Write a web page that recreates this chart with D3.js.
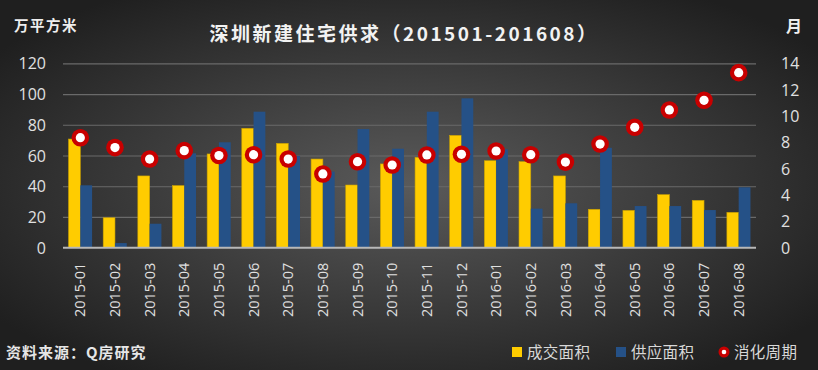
<!DOCTYPE html>
<html lang="zh">
<head>
<meta charset="UTF-8">
<title>深圳新建住宅供求</title>
<style>
  html, body { margin: 0; padding: 0; background: #2b2b2b; }
  svg { display: block; }
  text { font-family: "Noto Sans CJK SC", "Open Sans", sans-serif; }
  .num { font-family: "Open Sans", "Noto Sans", sans-serif; }
</style>
</head>
<body>
<script src="https://d3js.org/d3.v7.min.js"></script>
<script>
const months = ["2015-01","2015-02","2015-03","2015-04","2015-05","2015-06","2015-07","2015-08","2015-09","2015-10",
                "2015-11","2015-12","2016-01","2016-02","2016-03","2016-04","2016-05","2016-06","2016-07","2016-08"];
// 成交面积 (万平方米)
const deal = [70.7, 19.5, 46.7, 40.4, 61, 77.7, 67.9, 57.7, 40.8, 54.5,
              58.8, 73.1, 56.6, 56, 46.7, 25, 24.3, 34.5, 30.8, 23];
// 供应面积 (万平方米)
const supply = [40.6, 3, 15.6, 61.4, 68.6, 88.5, 59.7, 49.5, 77.2, 64.4,
                88.5, 97.2, 64, 25.4, 28.9, 65, 27.1, 27.1, 24.5, 39.3];
// 消化周期 (月)
const cycle = [8.35, 7.6, 6.73, 7.37, 7.0, 7.06, 6.73, 5.6, 6.53, 6.28,
               7.04, 7.09, 7.34, 7.06, 6.5, 7.87, 9.14, 10.46, 11.19, 13.29];
const leftTicks = [0, 20, 40, 60, 80, 100, 120];
const rightTicks = [0, 2, 4, 6, 8, 10, 12, 14];

const W = 818, H = 370;
const plot = {left: 63, right: 756, top: 63.3, bottom: 247.7};

const svg = d3.select("body").append("svg").attr("width", W).attr("height", H);

const defs = svg.append("defs");
const grad = defs.append("radialGradient").attr("id", "bg")
  .attr("cx", "50%").attr("cy", "50%").attr("r", "62%");
grad.append("stop").attr("offset", "0%").attr("stop-color", "#5a5a5a");
grad.append("stop").attr("offset", "100%").attr("stop-color", "#1f1f1f");
svg.append("rect").attr("width", W).attr("height", H).attr("fill", "url(#bg)");

const x = d3.scaleBand().domain(months).range([plot.left, plot.right]).paddingInner(0.32).paddingOuter(0.16);
const xs = d3.scaleBand().domain(["deal", "supply"]).range([0, x.bandwidth()]);
const yL = d3.scaleLinear().domain([0, 120]).range([plot.bottom, plot.top]);
const yR = d3.scaleLinear().domain([0, 14]).range([plot.bottom, plot.top]);

// gridlines
const grid = d3.axisLeft(yL).tickValues(leftTicks.slice(1)).tickSize(-(plot.right - plot.left)).tickFormat("");
svg.append("g").attr("transform", `translate(${plot.left},0)`).call(grid)
  .call(g => g.select(".domain").remove())
  .call(g => g.selectAll("line").attr("stroke", "#6a6a6a").attr("stroke-width", 1.2));

// left axis labels
svg.append("g").attr("transform", `translate(${plot.left},0)`)
  .call(d3.axisLeft(yL).tickValues(leftTicks).tickSize(0).tickPadding(17))
  .call(g => g.select(".domain").remove())
  .call(g => g.selectAll("text").attr("class", "num").attr("fill", "#e0e0e0").attr("font-size", 16).attr("dy", "0.35em"));

// right axis labels
svg.append("g").attr("transform", `translate(${plot.right},0)`)
  .call(d3.axisRight(yR).tickValues(rightTicks).tickSize(0).tickPadding(25))
  .call(g => g.select(".domain").remove())
  .call(g => g.selectAll("text").attr("class", "num").attr("fill", "#e0e0e0").attr("font-size", 16).attr("dy", "0.35em"));

// bars
const groups = svg.append("g").selectAll("g").data(months).join("g")
  .attr("transform", d => `translate(${x(d)},0)`);
groups.append("rect")
  .attr("x", xs("deal")).attr("width", xs.bandwidth())
  .attr("y", (d, i) => yL(deal[i])).attr("height", (d, i) => plot.bottom - yL(deal[i]))
  .attr("fill", "#ffcc00").attr("stroke", "#c9a000").attr("stroke-width", 0.6);
groups.append("rect")
  .attr("x", xs("supply")).attr("width", xs.bandwidth())
  .attr("y", (d, i) => yL(supply[i])).attr("height", (d, i) => plot.bottom - yL(supply[i]))
  .attr("fill", "#255187");

// baseline
svg.append("line").attr("x1", plot.left).attr("x2", plot.right)
  .attr("y1", plot.bottom).attr("y2", plot.bottom)
  .attr("stroke", "#b8b8b8").attr("stroke-width", 2);

// x axis labels
svg.append("g").attr("transform", `translate(0,${plot.bottom})`)
  .call(d3.axisBottom(x).tickSize(0).tickPadding(0))
  .call(g => g.select(".domain").remove())
  .call(g => g.selectAll("text")
    .attr("class", "num").attr("fill", "#e0e0e0").attr("font-size", 14.5)
    .attr("transform", "rotate(-90)").attr("text-anchor", "end")
    .attr("x", -15).attr("y", 0).attr("dy", "0.35em"));

// cycle dots
const dots = svg.append("g").selectAll("g").data(months).join("g")
  .attr("transform", (d, i) => `translate(${x(d) + x.bandwidth() / 2},${yR(cycle[i])})`);
dots.append("circle").attr("r", 8.8).attr("fill", "#c80000");
dots.append("circle").attr("r", 4.6).attr("fill", "#ffffff");

// title and units
svg.append("text").attr("x", 404).attr("y", 41).attr("text-anchor", "middle")
  .attr("fill", "#f2f2f2").attr("font-size", 19).attr("font-weight", "bold").attr("letter-spacing", 2.5)
  .text("深圳新建住宅供求（201501-201608）");
svg.append("text").attr("x", 14).attr("y", 31).attr("fill", "#eeeeee")
  .attr("font-size", 14.5).attr("font-weight", "bold").attr("letter-spacing", 1.5).text("万平方米");
svg.append("text").attr("x", 786).attr("y", 32).attr("fill", "#eeeeee")
  .attr("font-size", 16).attr("font-weight", "bold").text("月");

// source
svg.append("text").attr("x", 6).attr("y", 358).attr("fill", "#e6e6e6")
  .attr("font-size", 15).attr("font-weight", "bold").attr("letter-spacing", 1).text("资料来源：Q房研究");

// legend
const legend = svg.append("g");
const items = [
  {label: "成交面积", x: 512, type: "rect", color: "#ffcc00"},
  {label: "供应面积", x: 616, type: "rect", color: "#255187"},
  {label: "消化周期", x: 719, type: "dot"}
];
items.forEach(it => {
  if (it.type === "rect") {
    legend.append("rect").attr("x", it.x).attr("y", 347).attr("width", 10).attr("height", 10).attr("fill", it.color);
  } else {
    legend.append("circle").attr("cx", it.x + 5).attr("cy", 352).attr("r", 5.5).attr("fill", "#c80000");
    legend.append("circle").attr("cx", it.x + 5).attr("cy", 352).attr("r", 2.3).attr("fill", "#fff");
  }
  legend.append("text").attr("x", it.x + 15).attr("y", 358).attr("fill", "#d8d8d8")
    .attr("font-size", 15.5).attr("letter-spacing", 0.3).text(it.label);
});
</script>
</body>
</html>
